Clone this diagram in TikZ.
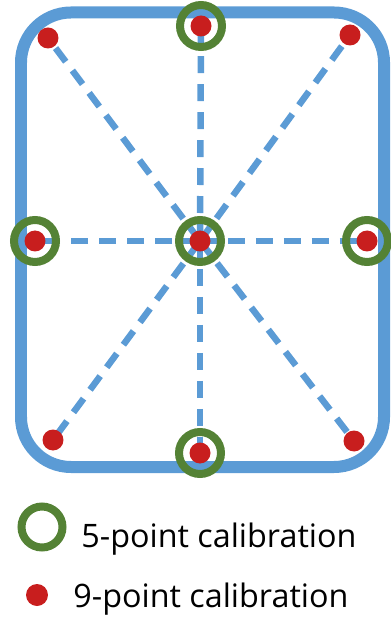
\documentclass[tikz,border=0pt]{standalone}
\usepackage{fontspec}
\setmainfont{Open Sans}
\usepackage{xcolor}
\usepackage{tikz}
\usetikzlibrary{positioning}
\definecolor{frameBlue}{RGB}{91,155,213}
\definecolor{ringGreen}{RGB}{84,130,53}
\definecolor{dotRed}{RGB}{200,30,30}
\tikzset{
  screenframe/.style={draw=frameBlue, line width=0.24cm, rounded corners=1cm},
  gazeline/.style={draw=frameBlue, line width=0.13cm, dash pattern=on 0.34cm off 0.22cm},
  fivering/.style={circle, draw=ringGreen, line width=0.16cm, minimum size=0.84cm, inner sep=0pt},
  ninedot/.style={circle, fill=dotRed, minimum size=0.42cm, inner sep=0pt},
  legendtext/.style={anchor=base west, inner sep=0pt, font=\fontsize{18.4}{22}\selectfont}
}
\begin{document}
\begin{tikzpicture}[x=0.02cm, y=-0.02cm]
  \useasboundingbox (0,0) rectangle (391,617);
  \draw[screenframe] (21,12.5) rectangle (384,467);
  % calibration targets
  \coordinate (tl) at (48,38);
  \coordinate (tc) at (201,26);
  \coordinate (tr) at (350,35);
  \coordinate (ml) at (35,241);
  \coordinate (mc) at (200,241);
  \coordinate (mr) at (367,241);
  \coordinate (bl) at (53,440);
  \coordinate (bc) at (200,453);
  \coordinate (br) at (354,441);
  \foreach \p in {tl,tc,tr,ml,mr,bl,bc,br}
    \draw[gazeline] (mc) -- (\p);
  \foreach \p in {tc,ml,mc,mr,bc}
    \node[fivering] (ring-\p) at (\p) {};
  \foreach \p in {tl,tc,tr,ml,mc,mr,bl,bc,br}
    \node[ninedot] (dot-\p) at (\p) {};
  % legend
  \node[fivering, minimum size=0.82cm] (lgring) at (42,527) {};
  \node[ninedot, minimum size=0.44cm] (lgdot) at (37,595) {};
  \node[legendtext] (lgfive) at (81,547) {5-point calibration};
  \node[legendtext] (lgnine) at (73,607) {9-point calibration};
\end{tikzpicture}
\end{document}
